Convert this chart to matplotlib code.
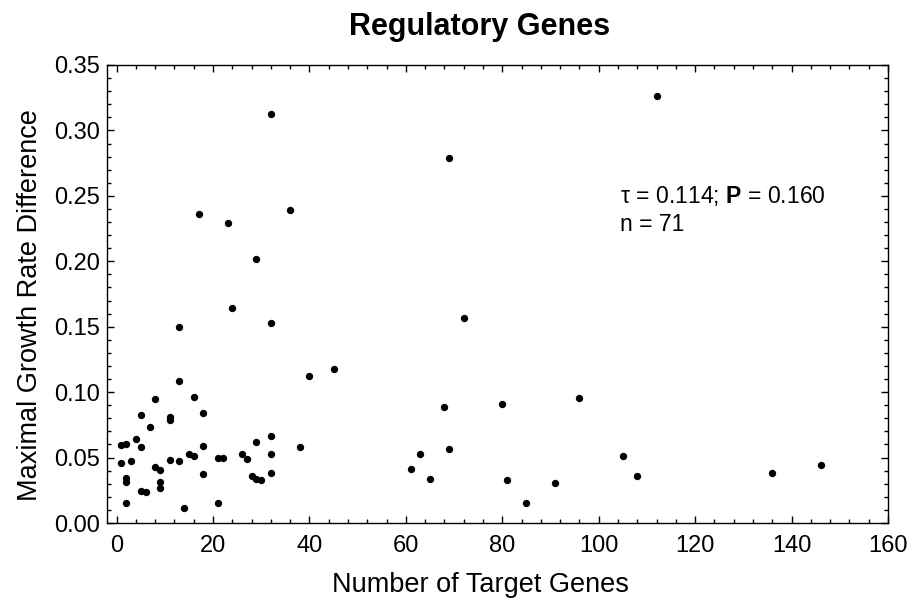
import matplotlib

matplotlib.use("Agg")
import matplotlib.pyplot as plt
from matplotlib.ticker import MultipleLocator, FormatStrFormatter

plt.rcParams["font.family"] = ["Liberation Sans", "DejaVu Sans"]
plt.rcParams["mathtext.fontset"] = "custom"
plt.rcParams["mathtext.rm"] = "Liberation Sans"
plt.rcParams["mathtext.bf"] = "Liberation Sans:bold"
plt.rcParams["mathtext.it"] = "Liberation Sans:italic"

# number of target genes per regulator
n_targets = [
    1, 2, 1, 3, 2, 2, 2, 4, 5, 5,
    5, 6, 7, 8, 8, 9, 9, 9, 11, 11,
    11, 13, 13, 14, 16, 15, 16, 18, 18, 18,
    21, 22, 21, 26, 27, 28, 29, 30, 29, 32,
    32, 32, 38, 40, 45, 17, 23, 36, 29, 24,
    13, 32, 32, 112, 68, 80, 63, 69, 61, 65,
    81, 85, 91, 96, 105, 108, 136, 146, 69, 72,
]

# maximal growth rate difference per regulator
growth_diff = [
    0.0594, 0.0604, 0.0456, 0.0474, 0.0342, 0.0316, 0.0155, 0.0644, 0.0823, 0.0583,
    0.0247, 0.0235, 0.0731, 0.0950, 0.0426, 0.0405, 0.0316, 0.0267, 0.0812, 0.0787,
    0.0484, 0.1083, 0.0474, 0.0112, 0.0961, 0.0525, 0.0514, 0.0843, 0.0586, 0.0377,
    0.0494, 0.0494, 0.0155, 0.0525, 0.0491, 0.0357, 0.0339, 0.0329, 0.0617, 0.0663,
    0.0527, 0.0382, 0.0578, 0.1121, 0.1177, 0.2364, 0.2293, 0.2392, 0.2017, 0.1643,
    0.1500, 0.1526, 0.3128, 0.3263, 0.0886, 0.0912, 0.0525, 0.0568, 0.0415, 0.0339,
    0.0329, 0.0155, 0.0303, 0.0955, 0.0510, 0.0359, 0.0384, 0.0441, 0.2790, 0.1567,
]

tau = 0.114
p_value = 0.160
n_genes = 71

fig = plt.figure(figsize=(9.10, 6.02), dpi=100)
ax = fig.add_axes([107 / 910, 1 - 523 / 602, 781 / 910, 458 / 602])

ax.scatter(n_targets, growth_diff, s=28, color="black", linewidths=0, zorder=3)

ax.set_xlim(-2, 160)
ax.set_ylim(0, 0.35)
ax.xaxis.set_major_locator(MultipleLocator(20))
ax.xaxis.set_minor_locator(MultipleLocator(4))
ax.yaxis.set_major_locator(MultipleLocator(0.05))
ax.yaxis.set_minor_locator(MultipleLocator(0.01))
ax.yaxis.set_major_formatter(FormatStrFormatter("%.2f"))

ax.tick_params(which="both", direction="in", top=True, right=True, width=1.0)
ax.tick_params(which="major", length=5, labelsize=17)
ax.tick_params(axis="x", which="major", pad=9)
ax.tick_params(axis="y", which="major", pad=5)
ax.tick_params(which="minor", length=3)
for spine in ax.spines.values():
    spine.set_linewidth(1.0)

ax.text(
    0.657, 0.683,
    f"τ = {tau:.3f}; $\\mathbf{{P}}$ = {p_value:.3f}\nn = {n_genes}",
    transform=ax.transAxes, fontsize=16.6, ha="left", va="center",
    linespacing=1.3,
)

fig.text(480 / 910, 1 - 27 / 602, "Regulatory Genes",
         fontsize=22, fontweight="bold", ha="center", va="center")
fig.text(480 / 910, 1 - 585 / 602, "Number of Target Genes",
         fontsize=19.5, ha="center", va="center")
fig.text(30 / 910, 1 - 305 / 602, "Maximal Growth Rate Difference",
         fontsize=19.5, ha="center", va="center", rotation=90)

fig.savefig("out.png", dpi=100)
